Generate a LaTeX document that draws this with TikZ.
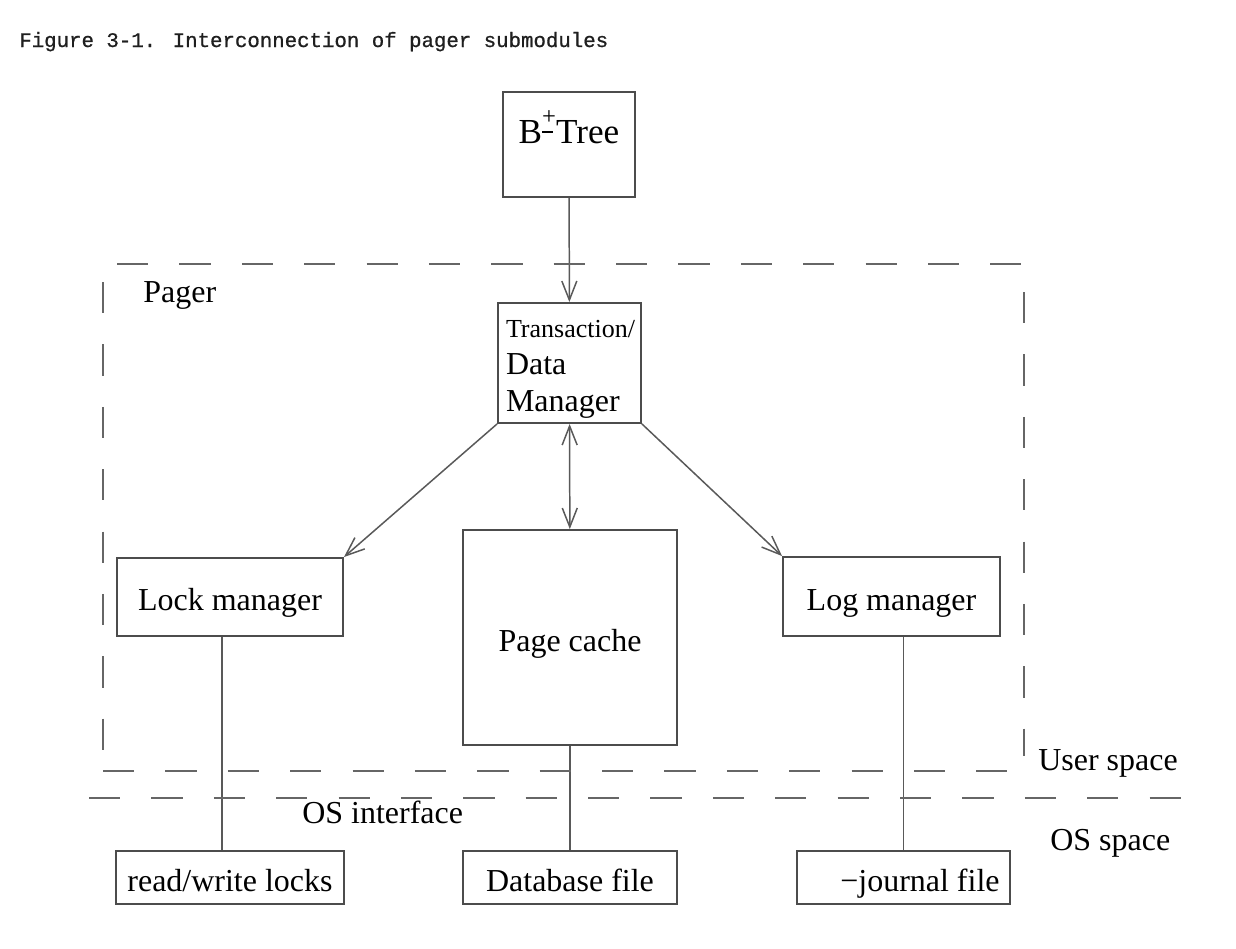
\documentclass[tikz,border=0pt]{standalone}
\usepackage{fontspec}
\setmainfont{Liberation Serif}
\newfontfamily\titlefont[FakeBold=0.8]{Liberation Mono}
\usetikzlibrary{arrows.meta}

\definecolor{boxgray}{gray}{0.3}
\definecolor{linkgray}{gray}{0.35}
\definecolor{dashgray}{gray}{0.4}
\definecolor{titlegray}{gray}{0.12}

\tikzset{
  box/.style={draw=boxgray, line width=1.1pt, inner sep=0pt, text height=0.54cm, text depth=0pt, font=\fontsize{18.2}{21.3}\selectfont},
  link/.style={draw=linkgray, line width=0.85pt},
  arrowlink/.style={-{Straight Barb[length=0.38cm,width=0.3cm]}},
  bothlink/.style={{Straight Barb[length=0.38cm,width=0.3cm]}-{Straight Barb[length=0.38cm,width=0.3cm]}},
  bound/.style={draw=dashgray, line width=1.1pt, dash pattern=on 0.624cm off 0.624cm},
  arealabel/.style={anchor=base west, inner sep=0pt, font=\fontsize{18.2}{21.3}\selectfont}
}

\begin{document}
\begin{tikzpicture}[x=0.02cm, y=-0.02cm]
% One unit is one pixel of the reference
\def\pixel{0.02cm}
\useasboundingbox (0,0) rectangle (1236,948);

% Title
\node[anchor=base west, inner sep=0pt, font=\titlefont\fontsize{11.8}{14}\selectfont, text=titlegray] (title) at (19,47) {Figure 3-1. Interconnection of pager submodules};

% Modules
\node[box, font=\fontsize{20}{22}\selectfont, minimum width=132*\pixel, minimum height=105*\pixel, text height=0.3cm, text depth=0.36cm] (btree) at (569,144.5) {B\rlap{\raisebox{0.38cm}{\fontsize{14}{14}\selectfont +}}\raisebox{0.2cm}{\rule{0.22cm}{0.035cm}}\hspace{0.06cm}Tree};
\node[box, minimum width=143*\pixel, minimum height=120*\pixel, text width=127*\pixel, text height=0.6cm, text depth=1.64cm, align=left] (tdm) at (569.5,363) {{\fontsize{14.8}{21.3}\selectfont Transaction/}\\Data\\Manager};
\node[box, minimum width=226*\pixel, minimum height=78*\pixel] (lock) at (230,597) {Lock manager};
\node[box, minimum width=214*\pixel, minimum height=215*\pixel] (cache) at (570,637.5) {Page cache};
\node[box, minimum width=217*\pixel, minimum height=79*\pixel] (logm) at (891.5,596.5) {Log manager};

% Files in OS space
\node[box, minimum width=228*\pixel, minimum height=53*\pixel] (rwlock) at (230,877.5) {read/write locks};
\node[box, minimum width=214*\pixel, minimum height=53*\pixel] (dbfile) at (570,877.5) {Database file};
\node[box, minimum width=213*\pixel, minimum height=53*\pixel] (journal) at (903.5,877.5) {\hspace*{0.66cm}−journal file};

% Connectors
\draw[link, arrowlink] (btree) -- (tdm);
\draw[link, arrowlink] (tdm.south west) -- (lock.north east);
\draw[link, arrowlink] (tdm.south east) -- (logm.north west);
\draw[link, bothlink] (tdm) -- (cache);
\draw[link] ([xshift=-8*\pixel]rwlock.north) -- ([xshift=-8*\pixel]rwlock.north |- lock.south);
\draw[link] (cache) -- (dbfile);
\draw[link] (journal.north) -- (journal.north |- logm.south);

% Pager boundary and space boundaries
\draw[bound] (117,264) -- (1021,264);
\draw[bound] (103,282) -- (103,750);
\draw[bound] (1024,292) -- (1024,756);
\draw[bound] (103,771) -- (1007,771);
\draw[bound] (89,798) -- (1181,798);

% Labels
\node[arealabel] (pager) at (143,302) {Pager};
\node[arealabel] (user) at (1038,770) {User space};
\node[arealabel] (osif) at (302,823) {OS interface};
\node[arealabel] (os) at (1050,850) {OS space};
\end{tikzpicture}
\end{document}
